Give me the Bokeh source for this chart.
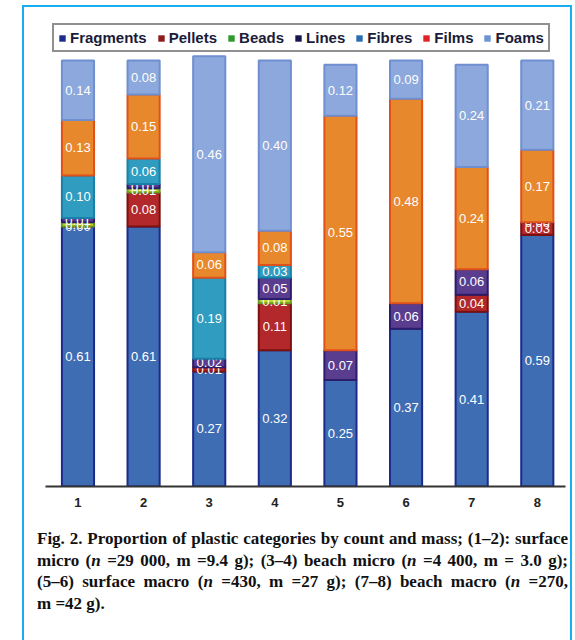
from bokeh.plotting import figure
from bokeh.models import ColumnDataSource, Range1d, FixedTicker, Legend, LegendItem, Div
from bokeh.layouts import column
from bokeh.core.properties import value
from bokeh.embed import file_html
from bokeh.resources import INLINE

# Samples (1-2 surface micro, 3-4 beach micro, 5-6 surface macro, 7-8 beach macro)
samples = [1, 2, 3, 4, 5, 6, 7, 8]
tick_labels = ["1", "2", "3", "4", "5", "6", "7", "8"]
categories = ["Fragments", "Pellets", "Beads", "Lines", "Fibres", "Films", "Foams"]

# Proportions per sample, stacked bottom to top; None = category not present
fragments = [0.61, 0.61, 0.27, 0.32, 0.25, 0.37, 0.41, 0.59]
pellets = [0.00, 0.08, 0.01, 0.11, None, None, 0.04, 0.03]
beads = [0.01, 0.01, None, 0.01, None, None, None, None]
lines = [0.01, 0.01, 0.02, 0.05, 0.07, 0.06, 0.06, 0.00]
fibres = [0.10, 0.06, 0.19, 0.03, None, None, None, None]
films = [0.13, 0.15, 0.06, 0.08, 0.55, 0.48, 0.24, 0.17]
foams = [0.14, 0.08, 0.46, 0.40, 0.12, 0.09, 0.24, 0.21]

series = [fragments, pellets, beads, lines, fibres, films, foams]

bar_fill = ["#3f6db4", "#b3282a", "#b8d430", "#5a3d8f", "#2f9cc0", "#e8882c", "#8ca8dc"]
bar_line = ["#1c2a8c", "#7a1010", "#6a9a20", "#2b1d6b", "#1a7fa8", "#e0501a", "#6f8fd0"]
legend_fill = ["#1c2a8c", "#8e1b1b", "#2e9a2e", "#15154f", "#2b6cb5", "#e02424", "#6b93d6"]

p = figure(width=546, height=508,
           x_range=Range1d(0.505, 8.43), y_range=Range1d(0, 1.103),
           output_backend="svg", toolbar_location=None,
           y_axis_location=None,
           min_border_left=21, min_border_right=5,
           min_border_top=9, min_border_bottom=29)
p.outline_line_color = None
p.grid.visible = False
p.background_fill_color = "white"
p.border_fill_color = "white"

bottoms = [0.0] * len(samples)
for name, vals, fc, lc in zip(categories, series, bar_fill, bar_line):
    xs, bot, top, lab_y, labs = [], [], [], [], []
    for i, v in enumerate(vals):
        if v is None:
            continue
        xs.append(samples[i])
        bot.append(bottoms[i])
        top.append(bottoms[i] + v)
        lab_y.append(bottoms[i] + v / 2)
        labs.append(f"{v:.2f}")
        bottoms[i] += v
    src = ColumnDataSource(dict(x=xs, bottom=bot, top=top, ly=lab_y, lab=labs))
    p.vbar(x="x", bottom="bottom", top="top", width=0.49, source=src,
           fill_color=fc, line_color=lc, line_width=2)
    p.text(x="x", y="ly", text="lab", source=src,
           text_align="center", text_baseline="middle",
           text_color="white", text_font=value("Liberation Sans"),
           text_font_size="13px")

# Legend swatches: zero-height bars kept only for the key
items = []
for name, c in zip(categories, legend_fill):
    r = p.vbar(x=[-10], bottom=[0], top=[0], width=0.5, fill_color=c, line_color=None)
    items.append(LegendItem(label=name, renderers=[r]))

legend = Legend(items=items, orientation="horizontal", location="top_left",
                margin=7, padding=4, spacing=10,
                glyph_width=8, glyph_height=8, label_standoff=4,
                label_height=14,
                label_text_font="Liberation Sans",
                label_text_font_style="bold", label_text_font_size="15px",
                label_text_color="#1b1b3a",
                border_line_color="#222222", border_line_width=2,
                background_fill_color="white", background_fill_alpha=1)
p.add_layout(legend, "center")

ax = p.xaxis[0]
ax.ticker = FixedTicker(ticks=samples)
ax.major_label_overrides = {s: t for s, t in zip(samples, tick_labels)}
ax.major_tick_line_color = None
ax.minor_tick_line_color = None
ax.axis_line_color = "#333333"
ax.axis_line_width = 2
ax.major_label_standoff = 5
ax.major_label_text_font = "Liberation Sans"
ax.major_label_text_font_style = "bold"
ax.major_label_text_font_size = "13px"
ax.major_label_text_color = "#222222"

caption_lines = [
    "<b>Fig. 2.</b> Proportion of plastic categories by count and mass; (1&ndash;2): surface",
    "micro (<i>n</i> =29&nbsp;000, m =9.4 g); (3&ndash;4) beach micro (<i>n</i> =4&nbsp;400, m = 3.0 g);",
    "(5&ndash;6) surface macro (<i>n</i> =430, m =27 g); (7&ndash;8) beach macro (<i>n</i> =270,",
    "m =42 g).",
]
just = "text-align:justify;text-align-last:justify;"
body = "".join(
    f'<div style="margin:0;{just if k < len(caption_lines) - 1 else ""}">{t}</div>'
    for k, t in enumerate(caption_lines)
)
html = ('<div style="width:531px;font-family:\'Liberation Serif\',serif;font-size:17px;'
        'font-weight:bold;line-height:21.7px;color:#111;">' + body + '</div>')
cap = Div(text=html, width=531, height=112, margin=(13, 0, 0, 13))

layout = column(p, cap, margin=(5, 0, 0, 22),
                styles={"border-top": "2px solid #18aef0",
                        "border-left": "2px solid #18aef0",
                        "border-right": "2px solid #18aef0",
                        "background": "white"})

open("out.html", "w").write(file_html(layout, INLINE))
